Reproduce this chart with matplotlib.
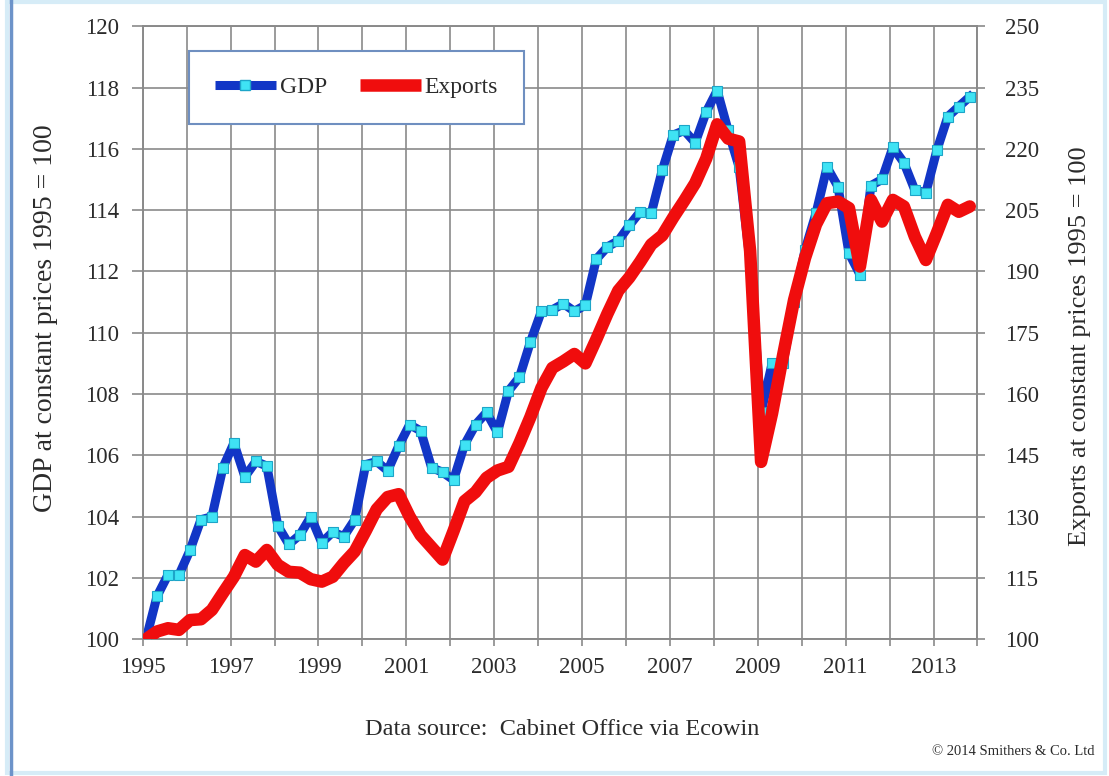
"""
Japan: GDP and exports at constant prices, quarterly, 1995 = 100
"""
import matplotlib.pyplot as plt
import numpy as np
from matplotlib.patches import Rectangle
from matplotlib.lines import Line2D

plt.rcParams['font.family'] = ['Liberation Serif', 'DejaVu Serif']

# Quarterly index values, 1995Q1 .. 2013Q4
gdp = [100.0, 101.4, 102.1, 102.1, 102.9, 103.9, 104.0, 105.6,
       106.4, 105.3, 105.8, 105.65, 103.7, 103.1, 103.4, 104.0,
       103.15, 103.5, 103.35, 103.9, 105.7, 105.8, 105.5, 106.3,
       107.0, 106.8, 105.6, 105.45, 105.2, 106.35, 107.0, 107.4,
       106.75, 108.1, 108.55, 109.7, 110.7, 110.75, 110.95, 110.7,
       110.9, 112.4, 112.8, 113.0, 113.5, 113.95, 113.9, 115.3,
       116.45, 116.6, 116.2, 117.2, 117.9, 116.6, 115.4, 112.3,
       107.4, 109.0, 109.0, 111.0, 112.7, 113.9, 115.4, 114.77,
       112.6, 111.9, 114.8, 115.0, 116.05, 115.55, 114.65, 114.57,
       115.95, 117.05, 117.38, 117.7]

exports = [100.0, 101.9, 102.7, 102.3, 104.7, 104.9, 107.2, 111.3,
           115.3, 120.6, 119.0, 121.85, 118.2, 116.5, 116.3, 114.7,
           114.1, 115.3, 118.6, 121.5, 126.5, 131.8, 134.8, 135.5,
           130.0, 125.5, 122.5, 119.5, 126.5, 133.8, 136.0, 139.5,
           141.3, 142.2, 148.0, 154.4, 161.5, 166.4, 168.0, 169.8,
           167.5, 173.4, 179.6, 185.3, 188.5, 192.4, 196.6, 198.8,
           203.2, 207.3, 211.6, 217.6, 226.0, 222.5, 221.8, 195.0,
           143.4, 155.3, 169.5, 183.0, 193.3, 201.5, 206.7, 207.1,
           205.5, 191.2, 207.5, 202.2, 207.5, 205.9, 198.5, 192.8,
           199.4, 206.3, 204.6, 205.9]

years = list(range(1995, 2015))
year_labels = [str(y) if y % 2 == 1 and y < 2014 else '' for y in years]

quarters = 1995 + (np.arange(len(gdp)) + 0.3) / 4

fig = plt.figure(figsize=(11.09, 7.76), dpi=100)
ax = fig.add_axes([0.1287, 0.1762, 0.7527, 0.79])
ax2 = ax.twinx()

grid_col = '#8a8a8a'
text_col = '#2b2b2b'
blue = '#1236c6'
red = '#f00d0d'

ax.plot(quarters, gdp, color=blue, lw=6.5, marker='s', markersize=7,
        markerfacecolor='#3fe3f4', markeredgecolor='#1da5c8', markeredgewidth=0.8,
        solid_joinstyle='round', zorder=3)
ax2.plot(quarters, exports, color=red, lw=9, solid_joinstyle='round',
         solid_capstyle='round', zorder=3)

ax.set_xlim(1995, 2014)
ax.set_ylim(100, 120)
ax2.set_ylim(100, 250)
ax.set_yticks(np.arange(100, 121, 2))
ax2.set_yticks(np.arange(100, 251, 15))
ax.set_xticks(years)
ax.set_xticklabels(year_labels)

ax.grid(True, color=grid_col, lw=1.2)
ax.set_axisbelow(True)
# exports line drawn above GDP
ax.set_zorder(1)
ax2.set_zorder(2)
ax2.patch.set_visible(False)
ax.patch.set_facecolor('white')

for a in (ax, ax2):
    for s in a.spines.values():
        s.set_color(grid_col)
        s.set_linewidth(1.2)

ax.tick_params(axis='y', length=8, width=1.2, color=grid_col, pad=9,
               labelsize=16.5, labelcolor=text_col)
ax.tick_params(axis='x', length=5, width=1.2, color=grid_col, pad=8,
               labelsize=16.5, labelcolor=text_col)
ax2.tick_params(axis='y', length=6, width=1.2, color=grid_col, pad=14,
                labelsize=16.5, labelcolor=text_col)

fig.text(0.041, 0.59, 'GDP at constant prices 1995 = 100', rotation=90,
         ha='center', va='center', fontsize=20, color=text_col)
fig.text(0.974, 0.554, 'Exports at constant prices 1995 = 100', rotation=90,
         ha='center', va='center', fontsize=19, color=text_col)

handles = [Line2D([], [], color=blue, lw=6.5, marker='s', markersize=7,
                  markerfacecolor='#3fe3f4', markeredgecolor='#1da5c8',
                  solid_capstyle='butt'),
           Line2D([], [], color=red, lw=9, solid_capstyle='butt')]
leg = ax.legend(handles, ['GDP', 'Exports'], loc='upper left',
                bbox_to_anchor=(0.055, 0.96), ncol=2, fontsize=17,
                handlelength=2.6, handletextpad=0.15, columnspacing=1.4,
                borderpad=1.1, borderaxespad=0, fancybox=False,
                framealpha=1)
leg.get_frame().set_edgecolor('#6f8fc0')
leg.get_frame().set_linewidth(1.5)
leg.set_zorder(5)
for t in leg.get_texts():
    t.set_color(text_col)

fig.text(0.507, 0.06, 'Data source:  Cabinet Office via Ecowin', ha='center',
         va='center', fontsize=17.5, color=text_col)
fig.text(0.987, 0.031, '\u00a9 2014 Smithers & Co. Ltd', ha='right',
         va='center', fontsize=10.5, color=text_col)

# page frame
fig.patches.append(Rectangle((0.006, 0.004), 0.99, 0.993, transform=fig.transFigure,
                             fill=False, edgecolor='#d6ecf7', lw=3))
fig.add_artist(Line2D([0.0095, 0.0095], [0, 1], transform=fig.transFigure,
                      color='#6d93c9', lw=2.5))

fig.savefig('out.png', dpi=100)
